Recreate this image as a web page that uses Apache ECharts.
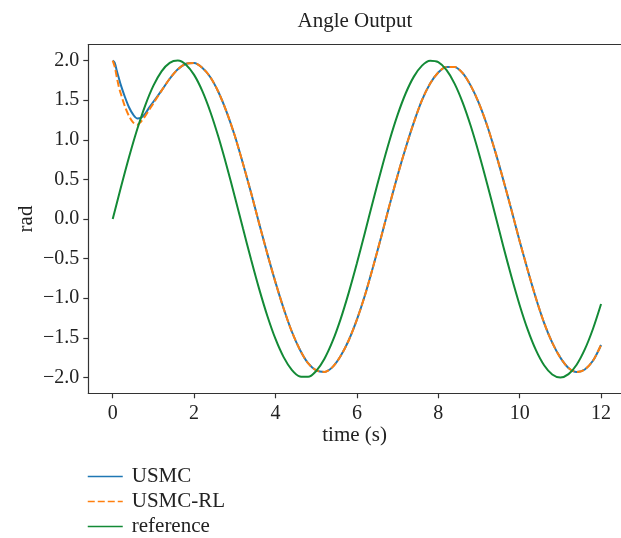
<!DOCTYPE html>
<html>
<head>
<meta charset="utf-8">
<script src="https://cdn.jsdelivr.net/npm/echarts@6/dist/echarts.min.js"></script>
<style>html,body{margin:0;padding:0;background:#fff}#c{width:621px;height:538px}</style>
</head>
<body>
<div id="c"></div>
<script>
var title = 'Angle Output';
var xName = 'time (s)';
var yName = 'rad';
var seriesNames = ['USMC', 'USMC-RL', 'reference'];
var xTicks = [0, 2, 4, 6, 8, 10, 12];
var yTicks = [-2.0, -1.5, -1.0, -0.5, 0.0, 0.5, 1.0, 1.5, 2.0];

var tRef = [0,0.2,0.4,0.6,0.8,1.0,1.2,1.4,1.6,1.8,2.0,2.2,2.4,2.6,2.8,3.0,3.2,3.4,3.6,3.8,4.0,4.2,4.4,4.6,4.8,5.0,5.2,5.4,5.6,5.8,6.0,6.2,6.4,6.6,6.8,7.0,7.2,7.4,7.6,7.8,8.0,8.2,8.4,8.6,8.8,9.0,9.2,9.4,9.6,9.8,10.0,10.2,10.4,10.6,10.8,11.0,11.2,11.4,11.6,11.8,12.0];
var reference = [0,0.397,0.779,1.129,1.435,1.683,1.864,1.971,1.999,1.948,1.819,1.617,1.351,1.031,0.670,0.282,-0.117,-0.511,-0.885,-1.224,-1.514,-1.743,-1.903,-1.987,-1.992,-1.918,-1.767,-1.546,-1.263,-0.929,-0.559,-0.166,0.233,0.623,0.988,1.314,1.587,1.797,1.936,1.997,1.979,1.881,1.709,1.469,1.170,0.824,0.446,0.050,-0.349,-0.733,-1.088,-1.400,-1.656,-1.846,-1.962,-2.000,-1.958,-1.839,-1.646,-1.388,-1.073];

var tCtrl = [0,0.05,0.1,0.15,0.2,0.3,0.4,0.5,0.6,0.7,0.8,0.9,1.0,1.2,1.4,1.6,1.8,2.0,2.2,2.4,2.6,2.8,3.0,3.2,3.4,3.6,3.8,4.0,4.2,4.4,4.6,4.8,5.0,5.2,5.4,5.6,5.8,6.0,6.2,6.4,6.6,6.8,7.0,7.2,7.4,7.6,7.8,8.0,8.2,8.4,8.6,8.8,9.0,9.2,9.4,9.6,9.8,10.0,10.2,10.4,10.6,10.8,11.0,11.2,11.4,11.6,11.8,12.0];
var usmc = [2.00,1.97,1.87,1.78,1.69,1.54,1.41,1.32,1.27,1.28,1.33,1.41,1.48,1.62,1.77,1.89,1.96,1.97,1.91,1.79,1.60,1.35,1.05,0.70,0.33,-0.06,-0.44,-0.80,-1.13,-1.42,-1.65,-1.82,-1.91,-1.93,-1.87,-1.73,-1.53,-1.27,-0.96,-0.60,-0.22,0.17,0.55,0.90,1.22,1.50,1.71,1.85,1.92,1.92,1.84,1.68,1.46,1.18,0.85,0.49,0.11,-0.28,-0.65,-1.00,-1.31,-1.56,-1.75,-1.88,-1.93,-1.90,-1.79,-1.59];
var usmcRL = [2.00,1.92,1.79,1.67,1.58,1.42,1.30,1.22,1.19,1.23,1.30,1.38,1.46,1.62,1.77,1.89,1.96,1.97,1.91,1.79,1.60,1.35,1.05,0.70,0.33,-0.06,-0.44,-0.80,-1.13,-1.42,-1.65,-1.82,-1.91,-1.93,-1.87,-1.73,-1.53,-1.27,-0.96,-0.60,-0.22,0.17,0.55,0.90,1.22,1.50,1.71,1.85,1.92,1.92,1.84,1.68,1.46,1.18,0.85,0.49,0.11,-0.28,-0.65,-1.00,-1.31,-1.56,-1.75,-1.88,-1.93,-1.90,-1.79,-1.59];

function pairs(xs, ys) { return xs.map(function (x, i) { return [x, ys[i]]; }); }

var FONT = 'Liberation Serif';
var TXT = '#222';
var AX = {color: '#333', width: 1.2};
var chart = echarts.init(document.getElementById('c'), null, {renderer: 'canvas'});
chart.setOption({
  animation: false,
  backgroundColor: '#fff',
  title: {
    text: title, left: 355, top: 11, textAlign: 'center', padding: 0,
    textStyle: {fontFamily: FONT, fontSize: 21, fontWeight: 'normal', color: TXT}
  },
  grid: {left: 88.3, top: 44.7, width: 532.7, height: 348.6},
  legend: {
    orient: 'vertical', left: 87, top: 466, padding: 0,
    itemWidth: 35, itemHeight: 14, itemGap: 4,
    data: seriesNames,
    textStyle: {fontFamily: FONT, fontSize: 21, color: TXT, padding: [0, 0, 0, 4]},
    lineStyle: {width: 1.5},
    itemStyle: {opacity: 0, color: 'rgba(0,0,0,0)', borderWidth: 0}
  },
  xAxis: [{
    type: 'value', min: -0.6, max: 12.49,
    name: xName, nameLocation: 'middle', nameGap: 32, nameMoveOverlap: false,
    nameTextStyle: {fontFamily: FONT, fontSize: 21, color: TXT},
    axisLine: {show: true, onZero: false, lineStyle: AX},
    axisTick: {show: true, inside: false, length: 5, customValues: xTicks, lineStyle: AX},
    axisLabel: {customValues: xTicks, margin: 10, fontFamily: FONT, fontSize: 20, color: TXT,
      formatter: function (v) { return String(v); }},
    splitLine: {show: false}
  }, {
    type: 'value', position: 'top', min: -0.6, max: 12.49,
    axisLine: {show: true, onZero: false, lineStyle: AX},
    axisTick: {show: false}, axisLabel: {show: false}, splitLine: {show: false}
  }],
  yAxis: {
    type: 'value', min: -2.2, max: 2.2,
    name: yName, nameLocation: 'middle', nameGap: 51, nameRotate: 90, nameMoveOverlap: false,
    nameTextStyle: {fontFamily: FONT, fontSize: 21, color: TXT},
    axisLine: {show: true, onZero: false, lineStyle: AX},
    axisTick: {show: true, inside: false, length: 5, customValues: yTicks, lineStyle: AX},
    axisLabel: {customValues: yTicks, margin: 9, fontFamily: FONT, fontSize: 20, color: TXT,
      formatter: function (v) { return v.toFixed(1).replace('-', '\u2212'); }},
    splitLine: {show: false}
  },
  series: [
    {name: seriesNames[0], type: 'line', data: pairs(tCtrl, usmc), showSymbol: false, symbol: 'none', smooth: 0.3,
      lineStyle: {color: '#1f77b4', width: 2}, itemStyle: {color: '#1f77b4'}, z: 2},
    {name: seriesNames[1], type: 'line', data: pairs(tCtrl, usmcRL), showSymbol: false, symbol: 'none', smooth: 0.3,
      lineStyle: {color: '#ff7f0e', width: 2, type: [7, 3]}, itemStyle: {color: '#ff7f0e'}, z: 3},
    {name: seriesNames[2], type: 'line', data: pairs(tRef, reference), showSymbol: false, symbol: 'none', smooth: 0.3,
      lineStyle: {color: '#138a36', width: 2}, itemStyle: {color: '#138a36'}, z: 4}
  ]
});
</script>
</body>
</html>
